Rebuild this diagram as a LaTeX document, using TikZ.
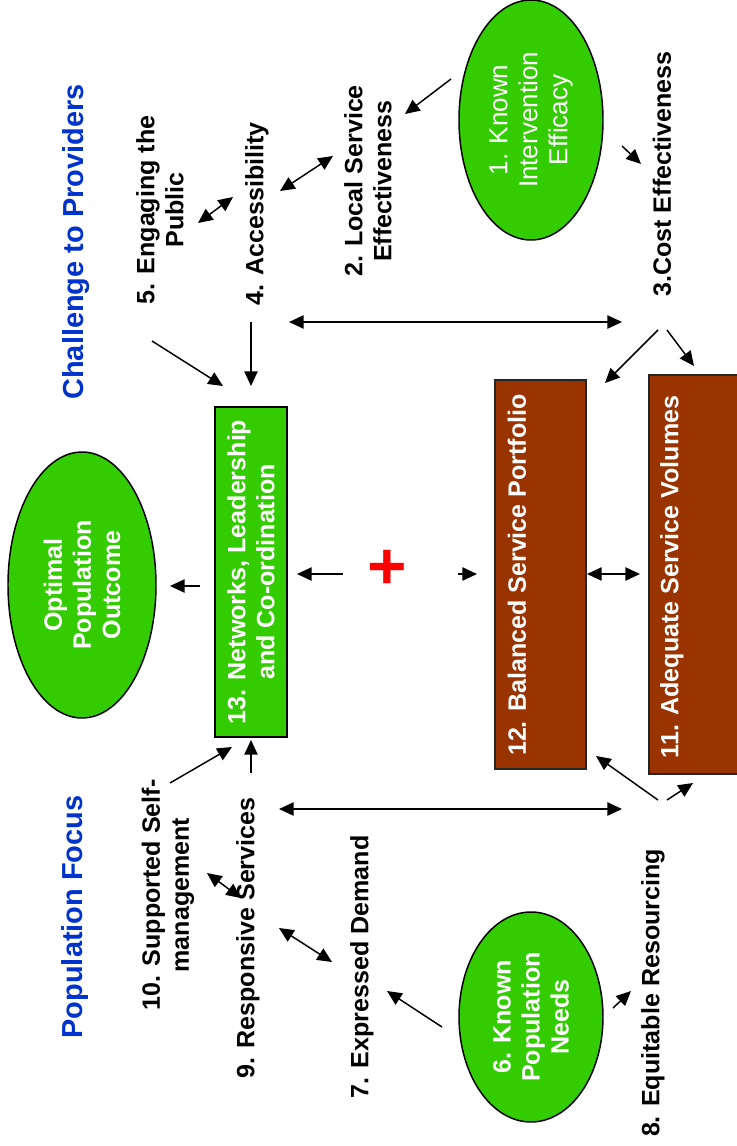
\documentclass[tikz,border=0pt]{standalone}
\usepackage{fontspec}
\setmainfont{Liberation Sans}
\usetikzlibrary{arrows.meta,shapes.geometric}
\definecolor{gr}{HTML}{33CC00}
\definecolor{br}{HTML}{993300}
\definecolor{bl}{HTML}{0033CC}
\newcommand\lblf{\fontsize{18.8}{21.8}\selectfont\bfseries}
\newcommand\ttlf{\fontsize{21.7}{25}\selectfont\bfseries}
\newcommand\elf{\fontsize{19.5}{22.5}\selectfont}
\newcommand\plusf{\fontsize{50}{50}\selectfont\bfseries}
\begin{document}
\begin{tikzpicture}[x=0.75pt,y=-0.75pt,
 lbl/.style={rotate=90,font=\lblf,align=center,inner sep=0pt},
 ttl/.style={rotate=90,font=\ttlf,text=bl,inner sep=0pt},
 oval/.style={ellipse,draw=black,line width=1.1pt,fill=gr,text=white,rotate=90,align=center,inner sep=0pt},
 gbox/.style={draw=black,line width=1.1pt,fill=gr,text=white,rotate=90,align=center,font=\lblf,inner sep=0pt},
 bbox/.style={draw=black!85,line width=1.1pt,fill=br,inner sep=0pt},
 wtxt/.style={rotate=90,font=\lblf,text=white,align=center,inner sep=0pt},
 arr/.style={-{Triangle[length=11pt,width=10pt]},line width=1.1pt},
 darr/.style={{Triangle[length=11pt,width=10pt]}-{Triangle[length=11pt,width=10pt]},line width=1.1pt}
]
\useasboundingbox (0,0) rectangle (737,1146);
% titles
\node[ttl] (t1) at (76,242) {Challenge to Providers};
\node[ttl] (t2) at (75,917) {Population Focus};
% ellipses
\node[oval,font=\elf,minimum width=180pt,minimum height=108pt] (e1) at (531,120) {1. Known\\Intervention\\Efficacy};
\node[oval,font=\lblf,minimum width=199.5pt,minimum height=111pt] (eo) at (82,585) {Optimal\\Population\\Outcome};
\node[oval,font=\lblf,minimum width=157.5pt,minimum height=108pt] (e6) at (531,1017) {6. Known\\Population\\Needs};
% boxes
\node[gbox,minimum width=247.5pt,minimum height=54pt] (b13) at (251,572) {13. Networks, Leadership\\and Co-ordination};
\node[bbox,minimum width=68.25pt,minimum height=291.75pt] (b12) at (540.5,574.5) {};
\node[bbox,minimum width=72pt,minimum height=299.25pt] (b11) at (697,574.5) {};
\node[wtxt] (t12) at (517,575) {12. Balanced Service Portfolio};
\node[wtxt] (t11) at (672,577) {11. Adequate Service Volumes};
% labels
\node[lbl] (l5) at (160,210) {5. Engaging the\\Public};
\node[lbl] (l4) at (257,214) {4. Accessibility};
\node[lbl] (l2) at (368,181) {2. Local Service\\Effectiveness};
\node[lbl] (l3) at (662,174) {3.Cost Effectiveness};
\node[lbl] (l10) at (168,895) {10. Supported Self-\\management};
\node[lbl] (l9) at (248,938) {9. Responsive Services};
\node[lbl] (l7) at (362,967) {7. Expressed Demand};
\node[lbl] (l8) at (653,993) {8. Equitable Resourcing};
\node[rotate=90,font=\plusf,text=red,inner sep=0pt] (plus) at (390,567) {+};
% connector end points
\coordinate (a1s) at (451,79);   \coordinate (a1e) at (405,114);
\coordinate (a2s) at (622,146);  \coordinate (a2e) at (641,164);
\coordinate (a3s) at (280,191);  \coordinate (a3e) at (333,156);
\coordinate (a4s) at (198,223);  \coordinate (a4e) at (233,197);
\coordinate (a5s) at (289,322);  \coordinate (a5e) at (622,322);
\coordinate (a6s) at (152,341);  \coordinate (a6e) at (223,386);
\coordinate (a7s) at (251,322);  \coordinate (a7e) at (251,386);
\coordinate (a8s) at (658,330);  \coordinate (a8e) at (605,383);
\coordinate (a9s) at (667,330);  \coordinate (a9e) at (694,366);
\coordinate (a10s) at (200,586); \coordinate (a10e) at (170,586);
\coordinate (a11s) at (343,574); \coordinate (a11e) at (297,574);
\coordinate (a12s) at (458,574); \coordinate (a12e) at (477,574);
\coordinate (a13s) at (587,574); \coordinate (a13e) at (640,574);
\coordinate (a14s) at (170,783); \coordinate (a14e) at (232,747);
\coordinate (a15s) at (251,773); \coordinate (a15e) at (251,740);
\coordinate (a16s) at (279,809); \coordinate (a16e) at (622,809);
\coordinate (a17s) at (207,873); \coordinate (a17e) at (241,898);
\coordinate (a18s) at (279,928); \coordinate (a18e) at (332,962);
\coordinate (a19s) at (442,1027);\coordinate (a19e) at (387,991);
\coordinate (a20s) at (613,1008);\coordinate (a20e) at (631,991);
\coordinate (a21s) at (658,800); \coordinate (a21e) at (596,756);
\coordinate (a22s) at (667,800); \coordinate (a22e) at (693,783);
% connectors
\draw[arr] (a1s) -- (a1e);
\draw[arr] (a2s) -- (a2e);
\draw[darr] (a3s) -- (a3e);
\draw[darr] (a4s) -- (a4e);
\draw[darr] (a5s) -- (a5e);
\draw[arr] (a6s) -- (a6e);
\draw[arr] (a7s) -- (a7e);
\draw[arr] (a8s) -- (a8e);
\draw[arr] (a9s) -- (a9e);
\draw[arr] (a10s) -- (a10e);
\draw[arr] (a11s) -- (a11e);
\draw[arr] (a12s) -- (a12e);
\draw[darr] (a13s) -- (a13e);
\draw[arr] (a14s) -- (a14e);
\draw[arr] (a15s) -- (a15e);
\draw[darr] (a16s) -- (a16e);
\draw[darr] (a17s) -- (a17e);
\draw[darr] (a18s) -- (a18e);
\draw[arr] (a19s) -- (a19e);
\draw[arr] (a20s) -- (a20e);
\draw[arr] (a21s) -- (a21e);
\draw[arr] (a22s) -- (a22e);
\end{tikzpicture}
\end{document}
